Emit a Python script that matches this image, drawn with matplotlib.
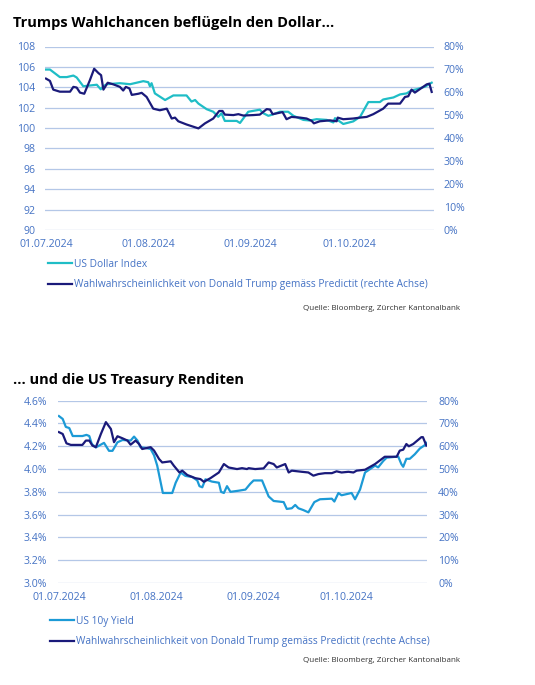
import matplotlib
matplotlib.use('Agg')  # kein Display, nur PNG
import matplotlib.pyplot as plt
import matplotlib.ticker as mticker
import matplotlib.dates as mdates
import pandas as pd

plt.rcParams['font.family'] = ['Open Sans', 'DejaVu Sans']

START = pd.Timestamp('2024-07-01')

# --- Daten (x = Tage ab 01.07.2024) ---
dxy_days = [0, 1.2, 4.2, 6.3, 8.3, 9.3, 11.3, 15.4, 16.6, 17.4, 18.4, 22.4, 25.5, 29.5, 31.0,
            31.5, 32.0, 33.0, 36.1, 38.6, 42.6, 44.1, 45.2, 46.2, 48.7, 50.7, 52.2, 53.2, 54.2,
            57.8, 58.8, 61.3, 64.8, 65.9, 67.4, 68.9, 70.9, 73.4, 75.0, 78.0, 80.0, 82.0, 85.1,
            87.1, 87.6, 90.1, 93.1, 95.2, 97.7, 101.2, 102.2, 103.7, 105.3, 107.3, 109.3, 110.8,
            112.3, 114.8, 116.9]
dxy_vals = [105.74, 105.74, 105.0, 105.0, 105.15, 104.96, 104.1, 104.25, 103.8, 104.1, 104.3,
            104.4, 104.3, 104.6, 104.5, 104.1, 104.4, 103.4, 102.75, 103.2, 103.2, 102.6, 102.75,
            102.4, 101.85, 101.6, 101.1, 101.45, 100.7, 100.7, 100.5, 101.6, 101.8, 101.45, 101.2,
            101.35, 101.6, 101.6, 101.2, 100.8, 100.74, 100.87, 100.8, 100.55, 100.97, 100.4,
            100.65, 101.1, 102.55, 102.55, 102.8, 102.9, 103.0, 103.3, 103.4, 103.7, 103.8,
            104.05, 104.45]

trump1_days = [0, 1.2, 2.2, 4.2, 7.3, 8.3, 9.3, 10.3, 11.6, 13.3, 14.6, 15.9, 16.7, 17.4, 18.7,
               20.4, 22.4, 23.4, 24.2, 25.3, 26.0, 28.0, 29.0, 30.5, 32.5, 34.5, 36.6, 38.1, 39.1,
               40.1, 42.6, 46.2, 48.2, 50.7, 52.5, 53.5, 54.2, 56.8, 58.3, 59.8, 62.8, 64.8, 66.9,
               67.9, 68.7, 70.4, 71.7, 72.9, 74.4, 77.0, 79.0, 80.5, 81.2, 83.0, 86.1, 88.1, 88.4,
               90.1, 93.1, 95.2, 97.2, 99.2, 102.2, 103.7, 107.3, 108.8, 109.8, 110.8, 111.8,
               115.4, 116.2, 116.9]
trump1_vals = [66.0, 65.0, 61.2, 60.3, 60.3, 62.4, 62.1, 59.9, 59.4, 65.3, 70.3, 68.4, 67.5, 61.2,
               64.2, 63.5, 62.4, 60.8, 62.4, 61.7, 58.9, 59.4, 59.8, 58.0, 52.9, 52.2, 52.9, 48.6,
               49.0, 47.4, 46.0, 44.3, 46.5, 48.6, 51.9, 51.9, 50.3, 50.1, 50.5, 49.9, 50.1, 50.3,
               52.7, 52.5, 50.5, 51.0, 51.4, 48.3, 49.3, 49.0, 48.6, 47.6, 46.5, 47.4, 47.8, 47.4,
               49.0, 48.3, 48.6, 49.0, 49.3, 50.5, 52.9, 55.1, 55.1, 58.0, 58.3, 61.2, 59.9, 63.5,
               63.8, 60.2]

yield_days = [0, 1.2, 2.2, 3.3, 4.4, 7.5, 8.8, 9.7, 10.5, 11.8, 14.4, 16.0, 17.1, 18.7, 20.3,
              22.9, 24.0, 25.1, 26.1, 27.7, 29.3, 30.4, 31.4, 33.2, 36.2, 37.3, 38.9, 40.4, 42.6,
              44.2, 44.9, 45.8, 46.8, 48.9, 51.1, 51.8, 52.7, 53.7, 54.8, 57.4, 59.6, 61.1, 62.2,
              64.9, 67.0, 68.6, 71.8, 72.8, 74.4, 75.5, 76.5, 78.1, 79.7, 81.6, 83.4, 87.2, 88.0,
              89.3, 90.3, 91.9, 93.5, 94.6, 96.2, 97.8, 99.4, 101.0, 102.0, 103.6, 104.7, 108.4,
              109.4, 110.0, 111.0, 112.1, 113.7, 115.3, 116.9, 117.4]
yield_vals = [4.465, 4.44, 4.37, 4.36, 4.29, 4.29, 4.30, 4.29, 4.22, 4.19, 4.23, 4.16, 4.16, 4.235,
              4.255, 4.25, 4.285, 4.25, 4.19, 4.185, 4.176, 4.12, 4.03, 3.79, 3.79, 3.88, 3.97,
              3.94, 3.93, 3.90, 3.85, 3.84, 3.91, 3.89, 3.88, 3.80, 3.79, 3.85, 3.80, 3.81, 3.82,
              3.87, 3.90, 3.90, 3.76, 3.72, 3.71, 3.65, 3.656, 3.685, 3.656, 3.64, 3.62, 3.71,
              3.735, 3.74, 3.715, 3.79, 3.77, 3.78, 3.79, 3.735, 3.82, 3.97, 4.0, 4.03, 4.015,
              4.07, 4.10, 4.11, 4.044, 4.02, 4.09, 4.09, 4.13, 4.18, 4.21, 4.23]

trump2_days = [0, 1.2, 2.4, 3.8, 7.5, 8.6, 9.7, 10.7, 11.8, 13.4, 15.0, 16.6, 17.6, 18.7, 20.3,
               21.9, 22.9, 24.5, 25.6, 26.6, 29.3, 30.4, 32.0, 33.0, 35.7, 36.7, 38.5, 39.4, 41.0,
               43.6, 45.2, 46.3, 48.4, 51.1, 52.7, 54.2, 56.9, 58.5, 60.1, 60.6, 62.7, 65.4, 67.0,
               68.6, 69.6, 72.3, 73.4, 74.4, 77.6, 79.7, 81.3, 82.9, 85.0, 87.2, 88.7, 90.3, 92.5,
               94.1, 95.1, 97.8, 101.0, 104.1, 107.9, 108.9, 110.0, 111.0, 111.8, 113.2, 115.8,
               116.3, 117.4]
trump2_vals = [66.2, 65.4, 61.3, 60.6, 60.6, 62.5, 62.5, 60.3, 59.6, 65.4, 70.6, 67.6, 61.8, 64.4,
               63.5, 62.5, 60.7, 62.5, 61.0, 58.8, 59.6, 58.1, 54.4, 52.9, 53.4, 51.5, 48.5, 49.3,
               47.4, 46.0, 45.6, 44.4, 46.0, 48.5, 52.2, 50.7, 50.0, 50.4, 50.0, 50.4, 50.0, 50.3,
               52.9, 52.2, 50.7, 52.2, 48.5, 49.3, 48.8, 48.5, 47.1, 47.8, 48.2, 48.2, 49.0, 48.5,
               48.8, 48.5, 49.3, 49.7, 52.2, 55.4, 55.4, 58.1, 58.5, 61.0, 60.0, 61.0, 64.0, 64.0,
               60.3]

date_ticks = ['2024-07-01', '2024-08-01', '2024-09-01', '2024-10-01']
dxy_ticks = [90, 92, 94, 96, 98, 100, 102, 104, 106, 108]
yield_ticks = [3.0, 3.2, 3.4, 3.6, 3.8, 4.0, 4.2, 4.4, 4.6]
pct_ticks = [0, 10, 20, 30, 40, 50, 60, 70, 80]

TXT = '#4472c4'
GRID = '#b4c7e7'
NAVY = '#1a1a7a'
W, H = 535, 685


def d(days):
    return START + pd.to_timedelta(days, unit='D')


def px_axes(fig, x0, y0, x1, y1):
    # Pixel-Koordinaten (von oben) in figure-Anteile umrechnen
    return fig.add_axes([x0 / W, 1 - y1 / H, (x1 - x0) / W, (y1 - y0) / H])


def style(ax, ax2, left_ticks, left_fmt, pad_l):
    ax.set_xlim(d(-0.3), d(117.6))
    ax.set_xticks(pd.to_datetime(date_ticks))
    ax.xaxis.set_major_formatter(mdates.DateFormatter('%d.%m.%Y'))
    ax.set_yticks(left_ticks)
    ax.set_ylim(left_ticks[0], left_ticks[-1])
    ax.yaxis.set_major_formatter(mticker.FuncFormatter(left_fmt))
    ax2.set_yticks(pct_ticks)
    ax2.set_ylim(0, 80)
    ax2.yaxis.set_major_formatter(mticker.FuncFormatter(lambda v, p: f'{v:.0f}%'))
    ax.grid(axis='y', color=GRID, linewidth=0.9)
    ax.set_axisbelow(True)
    for a in (ax, ax2):
        for s in a.spines.values():
            s.set_visible(False)
        a.tick_params(length=0, labelcolor=TXT, labelsize=7.6)
    ax.tick_params(axis='x', pad=6.5)
    ax.tick_params(axis='y', pad=pad_l)
    ax2.tick_params(axis='y', pad=pad_l)


fig = plt.figure(figsize=(W / 100, H / 100), dpi=100)

# ---- oben: Dollar ----
fig.text(13 / W, 1 - 23 / H, 'Trumps Wahlchancen beflügeln den Dollar...',
         fontsize=10.5, fontweight='bold', va='center', color='black')
ax1 = px_axes(fig, 45, 46.5, 434, 230)
ax1b = ax1.twinx()
l1, = ax1.plot(d(dxy_days), dxy_vals, color='#1fbdc6', lw=1.6, label='US Dollar Index')
l2, = ax1b.plot(d(trump1_days), trump1_vals, color=NAVY, lw=1.6,
                label='Wahlwahrscheinlichkeit von Donald Trump gemäss Predictit (rechte Achse)')
style(ax1, ax1b, dxy_ticks, lambda v, p: f'{v:.0f}', 7)
fig.legend(handles=[l1, l2], loc='upper left', bbox_to_anchor=(48 / W, 1 - 259 / H),
           frameon=False, fontsize=7.3, labelcolor=TXT, handlelength=2.4,
           handletextpad=0.2, labelspacing=0.9, borderpad=0, borderaxespad=0)
fig.text(460 / W, 1 - 309 / H, 'Quelle: Bloomberg, Zürcher Kantonalbank',
         fontsize=5.8, ha='right', va='center', color='#333333')

# ---- unten: Renditen ----
fig.text(13 / W, 1 - 380 / H, '... und die US Treasury Renditen',
         fontsize=10.5, fontweight='bold', va='center', color='black')
ax2 = px_axes(fig, 58, 400.7, 427, 583)
ax2b = ax2.twinx()
l3, = ax2.plot(d(yield_days), yield_vals, color='#1c9ad6', lw=1.6, label='US 10y Yield')
l4, = ax2b.plot(d(trump2_days), trump2_vals, color=NAVY, lw=1.6,
                label='Wahlwahrscheinlichkeit von Donald Trump gemäss Predictit (rechte Achse)')
style(ax2, ax2b, yield_ticks, lambda v, p: f'{v:.1f}%', 8)
fig.legend(handles=[l3, l4], loc='upper left', bbox_to_anchor=(50 / W, 1 - 616 / H),
           frameon=False, fontsize=7.3, labelcolor=TXT, handlelength=2.4,
           handletextpad=0.2, labelspacing=0.9, borderpad=0, borderaxespad=0)
fig.text(460 / W, 1 - 661 / H, 'Quelle: Bloomberg, Zürcher Kantonalbank',
         fontsize=5.8, ha='right', va='center', color='#333333')

fig.savefig('out.png', dpi=100)
